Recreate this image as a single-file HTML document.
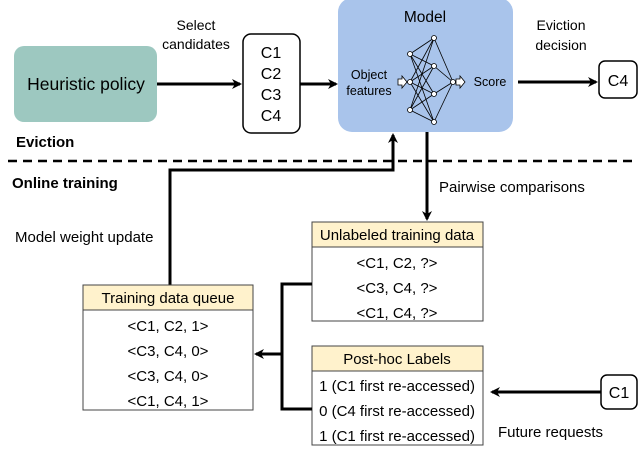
<!DOCTYPE html>
<html><head><style>
body{margin:0;background:#fff}
svg{display:block;font-family:"Liberation Sans",sans-serif}
</style></head><body>
<svg width="640" height="450" viewBox="0 0 640 450" xmlns="http://www.w3.org/2000/svg">
<defs>
<marker id="a" markerWidth="10" markerHeight="10" refX="8" refY="5" orient="auto" markerUnits="userSpaceOnUse"><path d="M0,0 L10,5 L0,10 L3,5z" fill="#000"/></marker>
</defs>
<rect x="14" y="46" width="143" height="76" rx="10" fill="#9dc8c0"/>
<text x="86" y="90" font-size="17.5" text-anchor="middle">Heuristic policy</text>
<line x1="157" y1="84" x2="240" y2="84" stroke="#000" stroke-width="3" marker-end="url(#a)"/>
<text x="196" y="30" font-size="14" text-anchor="middle">Select</text>
<text x="196" y="49" font-size="14" text-anchor="middle">candidates</text>
<rect x="243" y="34" width="57" height="99" rx="8" fill="#fff" stroke="#000" stroke-width="1.5"/>
<text x="271" y="58" font-size="16" text-anchor="middle">C1</text>
<text x="271" y="79" font-size="16" text-anchor="middle">C2</text>
<text x="271" y="100" font-size="16" text-anchor="middle">C3</text>
<text x="271" y="121" font-size="16" text-anchor="middle">C4</text>
<line x1="300" y1="84" x2="336" y2="84" stroke="#000" stroke-width="3" marker-end="url(#a)"/>
<rect x="338" y="-2" width="175" height="134" rx="14" fill="#a9c4eb"/>
<text x="425" y="22" font-size="15.5" text-anchor="middle">Model</text>
<text x="369" y="79" font-size="12.5" text-anchor="middle">Object</text>
<text x="369" y="95" font-size="12.5" text-anchor="middle">features</text>
<text x="490" y="86" font-size="12.5" text-anchor="middle">Score</text>
<g stroke="#000" stroke-width="0.8">
<line x1="410" y1="54" x2="434" y2="38"/><line x1="410" y1="54" x2="434" y2="66"/><line x1="410" y1="54" x2="434" y2="94"/><line x1="410" y1="54" x2="434" y2="122"/>
<line x1="410" y1="82" x2="434" y2="38"/><line x1="410" y1="82" x2="434" y2="66"/><line x1="410" y1="82" x2="434" y2="94"/><line x1="410" y1="82" x2="434" y2="122"/>
<line x1="410" y1="110" x2="434" y2="38"/><line x1="410" y1="110" x2="434" y2="66"/><line x1="410" y1="110" x2="434" y2="94"/><line x1="410" y1="110" x2="434" y2="122"/>
<line x1="434" y1="38" x2="453" y2="82"/><line x1="434" y1="66" x2="453" y2="82"/><line x1="434" y1="94" x2="453" y2="82"/><line x1="434" y1="122" x2="453" y2="82"/>
</g>
<g fill="#fff" stroke="#000" stroke-width="0.8">
<circle cx="410" cy="54" r="2.5"/><circle cx="410" cy="82" r="2.5"/><circle cx="410" cy="110" r="2.5"/>
<circle cx="434" cy="38" r="2.5"/><circle cx="434" cy="66" r="2.5"/><circle cx="434" cy="94" r="2.5"/><circle cx="434" cy="122" r="2.5"/>
<circle cx="453" cy="82" r="2.5"/>
<path d="M398,79 h4 v-3 l5,6 l-5,6 v-3 h-4z"/>
<path d="M456,79 h4 v-3 l5,6 l-5,6 v-3 h-4z"/>
</g>
<line x1="518" y1="82" x2="596" y2="82" stroke="#000" stroke-width="3" marker-end="url(#a)"/>
<text x="561" y="30" font-size="14" text-anchor="middle">Eviction</text>
<text x="561" y="50" font-size="14" text-anchor="middle">decision</text>
<rect x="599" y="61" width="38" height="37" rx="6" fill="#fff" stroke="#000" stroke-width="1.5"/>
<text x="618" y="86" font-size="16" text-anchor="middle">C4</text>
<text x="16" y="147" font-size="15" font-weight="bold">Eviction</text>
<line x1="8" y1="161" x2="632" y2="161" stroke="#000" stroke-width="2.5" stroke-dasharray="9,6"/>
<text x="12" y="188" font-size="15" font-weight="bold">Online training</text>
<polyline points="170,285 170,170 393,170 393,135" fill="none" stroke="#000" stroke-width="3" marker-end="url(#a)"/>
<text x="15" y="242" font-size="15">Model weight update</text>
<line x1="427" y1="132" x2="427" y2="219" stroke="#000" stroke-width="3" marker-end="url(#a)"/>
<text x="439" y="192" font-size="15">Pairwise comparisons</text>
<rect x="312" y="222" width="171" height="99" fill="#fff" stroke="#444"/>
<rect x="312" y="222" width="171" height="25" fill="#fff2cc" stroke="#444"/>
<text x="397" y="240" font-size="15" text-anchor="middle">Unlabeled training data</text>
<text x="397" y="268" font-size="15" text-anchor="middle">&lt;C1, C2, ?&gt;</text>
<text x="397" y="293" font-size="15" text-anchor="middle">&lt;C3, C4, ?&gt;</text>
<text x="397" y="318" font-size="15" text-anchor="middle">&lt;C1, C4, ?&gt;</text>
<rect x="312" y="346" width="171" height="99" fill="#fff" stroke="#444"/>
<rect x="312" y="346" width="171" height="25" fill="#fff2cc" stroke="#444"/>
<text x="397" y="364" font-size="15" text-anchor="middle">Post-hoc Labels</text>
<text x="397" y="391" font-size="15" text-anchor="middle">1 (C1 first re-accessed)</text>
<text x="397" y="416" font-size="15" text-anchor="middle">0 (C4 first re-accessed)</text>
<text x="397" y="441" font-size="15" text-anchor="middle">1 (C1 first re-accessed)</text>
<rect x="83" y="285" width="170" height="125" fill="#fff" stroke="#444"/>
<rect x="83" y="285" width="170" height="25" fill="#fff2cc" stroke="#444"/>
<text x="168" y="303" font-size="15" text-anchor="middle">Training data queue</text>
<text x="168" y="331" font-size="15" text-anchor="middle">&lt;C1, C2, 1&gt;</text>
<text x="168" y="356" font-size="15" text-anchor="middle">&lt;C3, C4, 0&gt;</text>
<text x="168" y="381" font-size="15" text-anchor="middle">&lt;C3, C4, 0&gt;</text>
<text x="168" y="406" font-size="15" text-anchor="middle">&lt;C1, C4, 1&gt;</text>
<polyline points="312,284 282,284 282,409 312,409" fill="none" stroke="#000" stroke-width="3"/>
<line x1="282" y1="354" x2="256" y2="354" stroke="#000" stroke-width="3" marker-end="url(#a)"/>
<rect x="601" y="375" width="36" height="34" rx="6" fill="#fff" stroke="#000" stroke-width="1.5"/>
<text x="619" y="398" font-size="16" text-anchor="middle">C1</text>
<line x1="601" y1="392" x2="492" y2="392" stroke="#000" stroke-width="3" marker-end="url(#a)"/>
<text x="498" y="437" font-size="15">Future requests</text>
</svg>
</body></html>
